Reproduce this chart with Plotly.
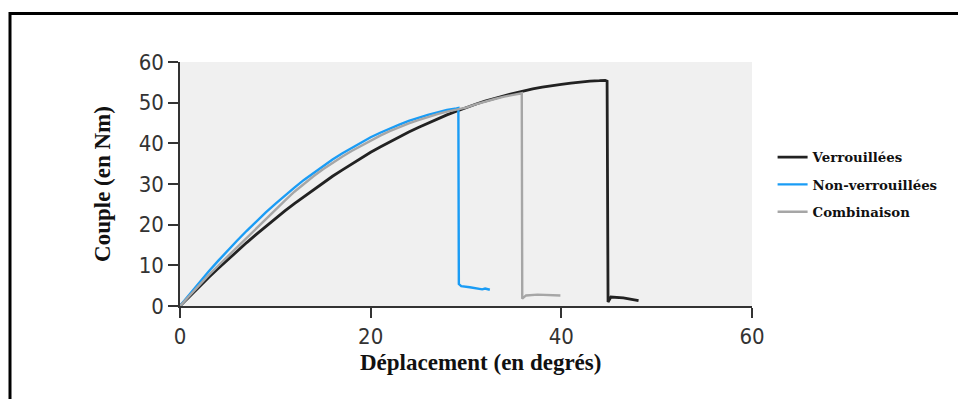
import plotly.graph_objects as go

# Verrouillées (black)
x_verr = [0, 1, 2, 3, 4, 5, 6, 7, 8, 9, 10, 11, 12, 13, 14, 15, 16, 17, 18, 19, 20,
          21, 22, 23, 24, 25, 26, 27, 28, 29, 30, 31, 32, 33, 34, 35, 36, 37, 38, 39, 40,
          41, 42, 43, 44, 44.6, 44.8, 44.9, 45.2, 46.5, 48.1]
y_verr = [0, 2.4, 4.7, 7.0, 9.2, 11.4, 13.5, 15.6, 17.6, 19.6, 21.5, 23.4, 25.2, 26.9, 28.6, 30.3, 31.9, 33.4, 34.9, 36.4, 37.8,
          39.1, 40.4, 41.6, 42.8, 43.9, 45.0, 46.0, 47.0, 47.9, 48.8, 49.6, 50.4, 51.1, 51.7, 52.3, 52.9, 53.4, 53.8, 54.2, 54.5,
          54.8, 55.1, 55.3, 55.4, 55.5, 55.3, 1.0, 2.2, 2.0, 1.3]

# Non-verrouillées (blue)
x_non = [0, 1, 2, 3, 4, 5, 6, 7, 8, 9, 10, 11, 12, 13, 14, 15, 16, 17, 18, 19, 20,
         21, 22, 23, 24, 25, 26, 27, 28, 29, 29.2, 29.25, 29.5, 30.4, 31.7, 32.0, 32.5]
y_non = [0, 2.9, 5.7, 8.5, 11.1, 13.7, 16.1, 18.5, 20.8, 23.0, 25.1, 27.2, 29.1, 31.0, 32.7, 34.4, 36.0, 37.5, 38.9, 40.2, 41.5,
         42.6, 43.7, 44.6, 45.5, 46.3, 47.0, 47.6, 48.2, 48.6, 48.7, 5.4, 4.9, 4.6, 4.1, 4.3, 4.0]

# Combinaison (grey)
x_comb = [0, 1, 2, 3, 4, 5, 6, 7, 8, 9, 10, 11, 12, 13, 14, 15, 16, 17, 18, 19, 20,
          21, 22, 23, 24, 25, 26, 27, 28, 29, 30, 31, 32, 33, 34, 35, 35.85, 35.9, 36.3, 37.5, 38.5, 39.9]
y_comb = [0, 2.6, 5.2, 7.6, 9.9, 12.2, 14.5, 16.9, 19.2, 21.4, 23.6, 25.9, 28.1, 30.1, 31.9, 33.6, 35.2, 36.7, 38.1, 39.4, 40.7,
          41.9, 43.0, 44.0, 44.9, 45.7, 46.5, 47.2, 47.8, 48.3, 48.8, 49.6, 50.3, 50.9, 51.5, 52.0, 52.3, 1.8, 2.6, 2.8, 2.7, 2.6]

x_ticks = [0, 20, 40, 60]
y_ticks = [0, 10, 20, 30, 40, 50, 60]

x_title = "Déplacement (en degrés)"
y_title = "Couple (en Nm)"

fig = go.Figure()
serif = "Liberation Serif, Times New Roman, serif"
legend_serif = "DejaVu Serif, serif"
narrow = "DejaVu Sans Condensed, Liberation Sans Narrow, sans-serif"

fig.add_trace(go.Scatter(x=x_verr, y=y_verr, mode="lines", name="Verrouillées",
                         line=dict(color="#222222", width=2.8), legendgroup="a"))
fig.add_trace(go.Scatter(x=x_non, y=y_non, mode="lines", name="Non-verrouillées",
                         line=dict(color="#1a9cf5", width=2.4), legendgroup="b"))
fig.add_trace(go.Scatter(x=x_comb, y=y_comb, mode="lines", name="Combinaison",
                         line=dict(color="#a6a6a6", width=2.4), legendgroup="c"))

tickfont = dict(family=narrow, size=22, color="#333333")

fig.update_layout(
    width=958, height=399,
    margin=dict(l=180, r=206, t=62, b=93),
    paper_bgcolor="white",
    plot_bgcolor="#f0f0f0",
    showlegend=True,
    legend=dict(x=1.036, y=0.498, xanchor="left", yanchor="middle",
                font=dict(family=legend_serif, size=13.3, color="#111111", weight="bold"),
                tracegroupgap=7, bgcolor="rgba(0,0,0,0)"),
    xaxis=dict(range=[0, 60], tickvals=x_ticks, showgrid=False, zeroline=False,
               showline=True, linecolor="#333333", linewidth=1.5,
               ticks="outside", ticklen=10, tickwidth=1.5, tickcolor="#333333",
               tickfont=tickfont),
    yaxis=dict(range=[0, 60], tickvals=y_ticks, showgrid=False, zeroline=False,
               showline=True, linecolor="#333333", linewidth=1.5,
               ticks="outside", ticklen=10, tickwidth=1.5, tickcolor="#333333",
               tickfont=tickfont,
               title=dict(text=y_title, standoff=22,
                          font=dict(family=serif, size=23, color="#111111", weight="bold"))),
)

fig.add_annotation(text=x_title, xref="paper", yref="paper",
                   x=(480 - 180) / 572, y=(306 - 362) / 244,
                   xanchor="center", yanchor="middle", showarrow=False,
                   font=dict(family=serif, size=23, color="#111111", weight="bold"))

# outer frame (top and left edges visible)
fig.add_shape(type="line", xref="paper", yref="paper",
              x0=(10 - 180) / 572, x1=1.6, y0=(306 - 13.5) / 244, y1=(306 - 13.5) / 244,
              line=dict(color="black", width=3))
fig.add_shape(type="line", xref="paper", yref="paper",
              x0=(10 - 180) / 572, x1=(10 - 180) / 572, y0=(306 - 12) / 244, y1=-0.6,
              line=dict(color="black", width=3))

fig.write_html("out.html")
